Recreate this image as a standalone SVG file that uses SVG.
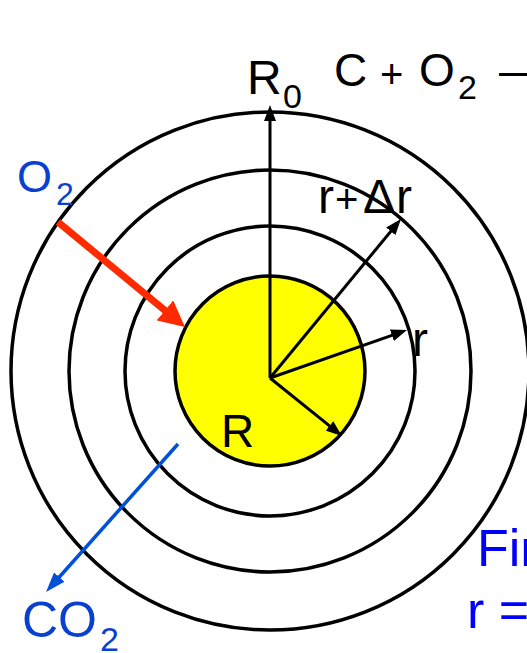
<svg xmlns="http://www.w3.org/2000/svg" width="527" height="653" viewBox="0 0 527 653">
<style>
.ring{fill:none;stroke:#000;stroke-width:3.5}
.lbl{font-family:"Liberation Sans",Arial,sans-serif;fill:#000}
.blue{fill:#0a40d0}
.pure{fill:#0000ff}
.ax{stroke:#000;stroke-width:3;fill:none}
</style>
<defs>
<marker id="ah" markerUnits="userSpaceOnUse" markerWidth="16" markerHeight="12" refX="6" refY="6" orient="auto"><path d="M0,0 L16,6 L0,12 z" fill="#000"/></marker>
<marker id="ahb" markerUnits="userSpaceOnUse" markerWidth="20" markerHeight="14" refX="8" refY="7" orient="auto"><path d="M0,0 L20,7 L0,14 z" fill="#0050d8"/></marker>
<marker id="ahr" markerUnits="userSpaceOnUse" markerWidth="26" markerHeight="26" refX="8" refY="13" orient="auto"><path d="M0,0 L26,13 L0,26 z" fill="#ff2a00"/></marker>
</defs>
<rect width="527" height="653" fill="#fff"/>
<g id="rings">
<circle class="ring" cx="270" cy="371" r="259"/>
<circle class="ring" cx="270" cy="371" r="201"/>
<circle class="ring" cx="270" cy="371" r="145"/>
</g>
<g id="core">
<circle cx="270" cy="371" r="95" fill="#ffff00" stroke="#000" stroke-width="3.5"/>
<text class="lbl" x="221" y="447" font-size="46">R</text>
</g>
<g id="connectors">
<line class="ax" x1="270" y1="378" x2="270" y2="115" marker-end="url(#ah)"/>
<line class="ax" x1="270" y1="378" x2="394.6" y2="226.7" marker-end="url(#ah)"/>
<line class="ax" x1="270" y1="378" x2="397.6" y2="333.3" marker-end="url(#ah)"/>
<line class="ax" x1="270" y1="378" x2="334.2" y2="429.7" marker-end="url(#ah)"/>
<line x1="58" y1="222" x2="171.1" y2="315.5" stroke="#ff2a00" stroke-width="7" marker-end="url(#ahr)"/>
<line x1="178" y1="444" x2="54" y2="583" stroke="#0050d8" stroke-width="3.5" marker-end="url(#ahb)"/>
</g>
<g id="labels">
<text class="lbl" x="247" y="94" font-size="48">R</text>
<text class="lbl" x="283" y="108" font-size="34">0</text>
<text class="lbl" x="334" y="86" font-size="46">C</text>
<text class="lbl" x="380" y="88" font-size="40">+</text>
<text class="lbl" x="419" y="86" font-size="46">O</text>
<text class="lbl" x="458" y="99" font-size="34">2</text>
<text class="lbl" x="499" y="86" font-size="46">—</text>
<text class="lbl" y="213" font-size="48"><tspan x="318">r</tspan><tspan x="335" font-size="40">+</tspan><tspan x="363">Δ</tspan><tspan x="396">r</tspan></text>
<text class="lbl" x="412" y="356" font-size="48">r</text>
<text class="lbl blue" x="17" y="192" font-size="45">O</text>
<text class="lbl blue" x="56" y="205" font-size="32">2</text>
<text class="lbl blue" x="22" y="637" font-size="50">CO</text>
<text class="lbl blue" x="100" y="651" font-size="34">2</text>
<text class="lbl pure" x="477" y="566" font-size="52">Fin</text>
<text class="lbl pure" x="467" y="628" font-size="52">r =</text>
</g>
</svg>
